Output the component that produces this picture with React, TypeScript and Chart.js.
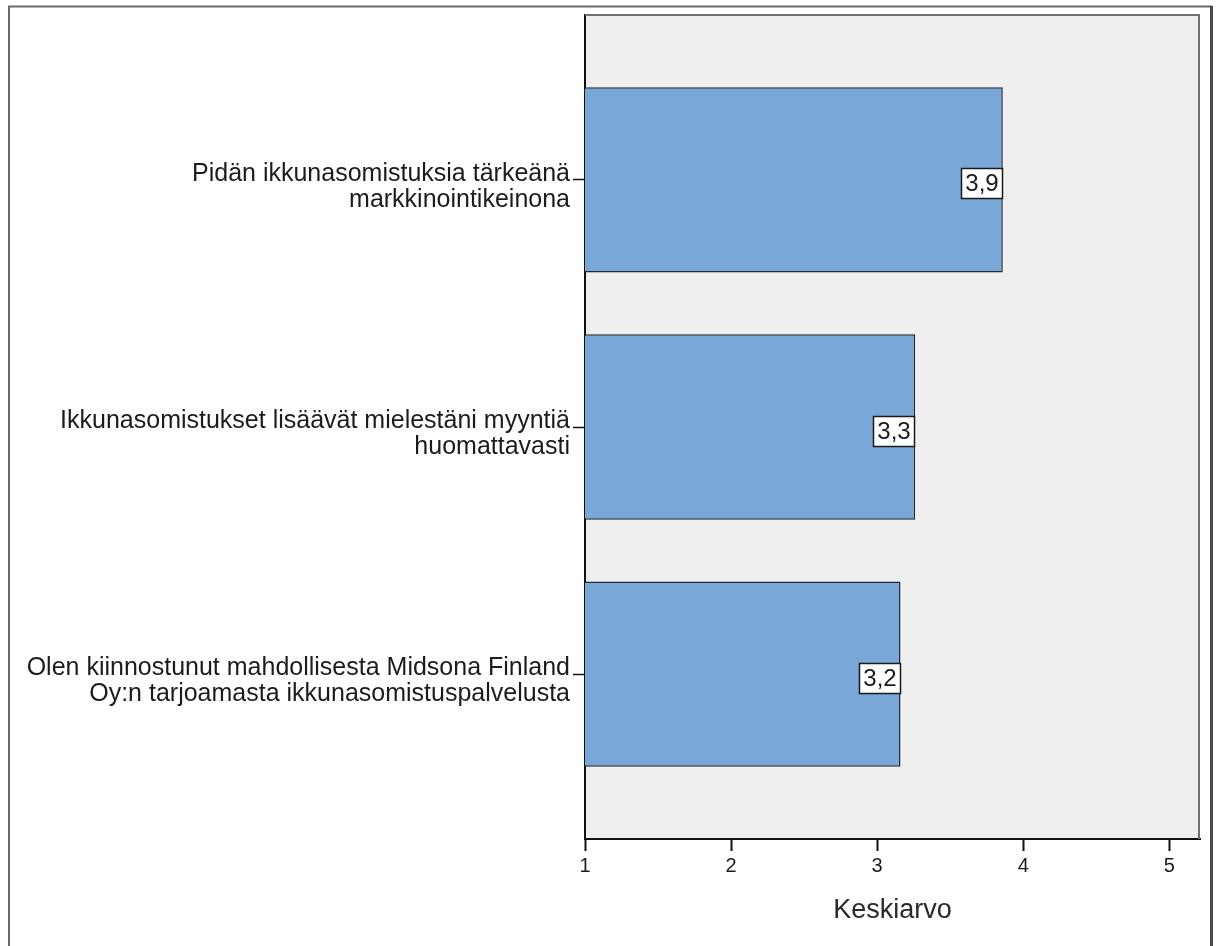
import { useEffect, useRef } from "react";
import { Chart, registerables } from "chart.js";

Chart.register(...registerables);

// Statement labels, split onto two lines as they appear beside the axis
const CATEGORY_LINES: string[][] = [
  ["Pidän ikkunasomistuksia tärkeänä", "markkinointikeinona"],
  ["Ikkunasomistukset lisäävät mielestäni myyntiä", "huomattavasti"],
  ["Olen kiinnostunut mahdollisesta Midsona Finland", "Oy:n tarjoamasta ikkunasomistuspalvelusta"],
];

// Mean score for each statement (scale 1–5)
const MEAN_VALUES: number[] = [3.86, 3.26, 3.16];

const X_TICKS: number[] = [1, 2, 3, 4, 5];
const X_TITLE = "Keskiarvo";

const FONT = '"Liberation Sans", Arial, Helvetica, sans-serif';

const formatMean = (v: number) => v.toFixed(1).replace(".", ",");

// White page, outer frame and grey plot background
const backgroundPlugin = {
  id: "frameAndBackground",
  beforeDraw(chart: Chart) {
    const { ctx, chartArea, width, height } = chart;
    ctx.save();
    ctx.fillStyle = "#ffffff";
    ctx.fillRect(0, 0, width, height);

    ctx.fillStyle = "#efefef";
    ctx.fillRect(chartArea.left, chartArea.top, chartArea.right - chartArea.left, chartArea.bottom - chartArea.top);

    // outer frame (top, left, right)
    ctx.strokeStyle = "#6a6a6a";
    ctx.lineWidth = 2;
    ctx.beginPath();
    ctx.moveTo(9, 947);
    ctx.lineTo(9, 6.5);
    ctx.lineTo(1212, 6.5);
    ctx.stroke();
    ctx.strokeStyle = "#4a4a4a";
    ctx.lineWidth = 3;
    ctx.beginPath();
    ctx.moveTo(1211.5, 6);
    ctx.lineTo(1211.5, 947);
    ctx.stroke();
    ctx.restore();
  },
  beforeDatasetsDraw(chart: Chart) {
    const { ctx, chartArea } = chart;
    ctx.save();
    ctx.strokeStyle = "#707070";
    ctx.lineWidth = 2;
    ctx.beginPath();
    ctx.moveTo(chartArea.left, chartArea.top);
    ctx.lineTo(chartArea.right - 1, chartArea.top);
    ctx.lineTo(chartArea.right - 1, chartArea.bottom);
    ctx.stroke();
    ctx.restore();
  },
};

// Boxed mean value at the end of each bar
const valueLabelPlugin = {
  id: "valueLabels",
  afterDatasetsDraw(chart: Chart) {
    const { ctx } = chart;
    const meta = chart.getDatasetMeta(0);
    ctx.save();
    ctx.font = `24px ${FONT}`;
    meta.data.forEach((bar: any, i: number) => {
      const { x, y } = bar.getProps(["x", "y"], true);
      const text = formatMean(MEAN_VALUES[i]);
      const w = Math.round(ctx.measureText(text).width + 9);
      const h = 31;
      const left = Math.round(x - w);
      const top = Math.round(y - h / 2 + 4);
      ctx.fillStyle = "#ffffff";
      ctx.fillRect(left, top, w, h);
      ctx.strokeStyle = "#1a1a1a";
      ctx.lineWidth = 1.5;
      ctx.strokeRect(left + 0.5, top + 0.5, w - 1, h - 1);
      ctx.fillStyle = "#1a1a1a";
      ctx.textAlign = "center";
      ctx.textBaseline = "middle";
      ctx.fillText(text, left + w / 2, top + h / 2 + 1);
    });
    ctx.restore();
  },
};

export default function App() {
  const canvasRef = useRef<HTMLCanvasElement | null>(null);

  useEffect(() => {
    if (!canvasRef.current) return;
    const chart = new Chart(canvasRef.current, {
      type: "bar",
      data: {
        datasets: [
          {
            data: MEAN_VALUES.map((v, i) => ({ x: v, y: i })),
            backgroundColor: "#79a7d7",
            borderColor: "#1e2935",
            borderWidth: 1.5,
            borderSkipped: false,
            categoryPercentage: 1,
            barPercentage: 0.75,
          },
        ],
      },
      options: {
        indexAxis: "y",
        animation: false,
        responsive: true,
        maintainAspectRatio: false,
        layout: { padding: { left: 0, top: 15, right: 19, bottom: 0 } },
        plugins: {
          legend: { display: false },
          tooltip: { enabled: false },
        },
        scales: {
          y: {
            type: "linear",
            reverse: true,
            offset: false,
            min: -0.668,
            max: 2.668,
            afterBuildTicks: (scale: any) => {
              scale.ticks = CATEGORY_LINES.map((_, i) => ({ value: i }));
            },
            afterFit: (scale: any) => {
              scale.width = 585;
              scale.paddingTop = 0;
              scale.paddingBottom = 0;
            },
            ticks: {
              callback: (v: any) => CATEGORY_LINES[v as number],
              font: { family: FONT, size: 25, lineHeight: 1.04 },
              color: "#1c1c1c",
              padding: 3,
              labelOffset: 7,
            },
            grid: {
              offset: false,
              drawOnChartArea: false,
              drawTicks: true,
              tickLength: 12,
              tickWidth: 1.5,
              tickColor: "#111111",
            },
            border: { display: true, color: "#111111", width: 2 },
          },
          x: {
            type: "linear",
            min: 1,
            max: 5.21,
            afterBuildTicks: (scale: any) => {
              scale.ticks = X_TICKS.map((v) => ({ value: v }));
            },
            afterFit: (scale: any) => {
              scale.height = 107;
              scale.paddingLeft = 0;
              scale.paddingRight = 0;
            },
            ticks: {
              font: { family: FONT, size: 20 },
              color: "#1c1c1c",
              padding: 3,
              maxRotation: 0,
            },
            grid: {
              drawOnChartArea: false,
              drawTicks: true,
              tickLength: 12,
              tickWidth: 2,
              tickColor: "#111111",
            },
            border: { display: true, color: "#111111", width: 2 },
            title: {
              display: true,
              text: X_TITLE,
              font: { family: FONT, size: 27 },
              color: "#2a2a2a",
              padding: { top: 4, bottom: 19 },
            },
          },
        },
      },
      plugins: [backgroundPlugin, valueLabelPlugin],
    });
    return () => chart.destroy();
  }, []);

  return (
    <div style={{ position: "absolute", left: 0, top: 0, width: 1219, height: 946 }}>
      <canvas ref={canvasRef} />
    </div>
  );
}
